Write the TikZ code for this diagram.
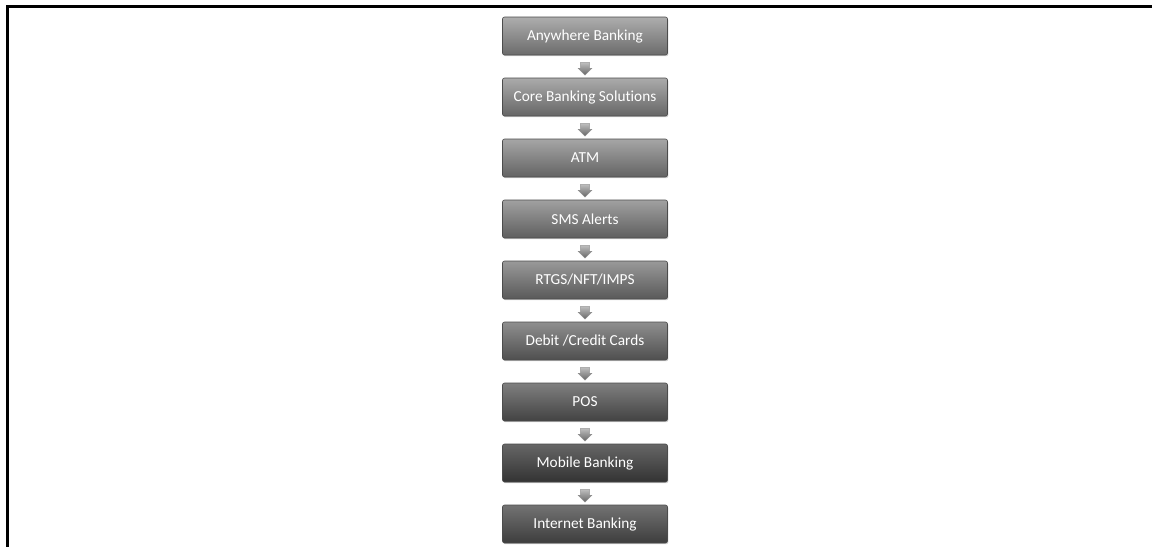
\documentclass[tikz,border=0pt]{standalone}
\usepackage{fontspec}
\setmainfont{Carlito}[Ligatures=NoCommon]
\usetikzlibrary{shapes.arrows,shadows}
\begin{document}
\begin{tikzpicture}[x=1pt,y=-1pt,
  stagebox/.style={rectangle, rounded corners=2pt, minimum width=165pt, minimum height=38pt,
    inner sep=0pt, draw=black!70, line width=0.6pt, text=white,
    font=\fontsize{15.3}{18}\selectfont,
    drop shadow={shadow xshift=0.8pt, shadow yshift=-1.2pt, opacity=0.35}},
  downarrow/.style={single arrow, shape border rotate=270, minimum width=14pt,
    minimum height=13pt, single arrow head extend=2.5pt, inner xsep=4pt, inner ysep=0pt,
    top color=black!25, bottom color=black!60, draw=black!45, line width=0.3pt}
]
\useasboundingbox (0,0) rectangle (1152,547);
\fill[white] (0,0) rectangle (1152,547);
\draw[line width=2.4pt] (7.5,6.5) -- (1152,6.5);
\draw[line width=2.4pt] (7.5,5.3) -- (7.5,547);

\node[stagebox, top color=black!32, bottom color=black!58] (b1) at (585,36) {Anywhere Banking};
\node[stagebox, top color=black!33, bottom color=black!60] (b2) at (585,97) {Core Banking Solutions};
\node[stagebox, top color=black!35, bottom color=black!61] (b3) at (585,158) {ATM};
\node[stagebox, top color=black!37, bottom color=black!63] (b4) at (585,219) {SMS Alerts};
\node[stagebox, top color=black!40, bottom color=black!65] (b5) at (585,280) {RTGS/NFT/IMPS};
\node[stagebox, top color=black!44, bottom color=black!69] (b6) at (585,341) {Debit /Credit Cards};
\node[stagebox, top color=black!50, bottom color=black!74] (b7) at (585,402) {POS};
\node[stagebox, top color=black!60, bottom color=black!80] (b8) at (585,463) {Mobile Banking};
\node[stagebox, top color=black!55, bottom color=black!76] (b9) at (585,524) {Internet Banking};

\path (b1.south) -- node[downarrow] (a1) {} (b2.north);
\path (b2.south) -- node[downarrow] (a2) {} (b3.north);
\path (b3.south) -- node[downarrow] (a3) {} (b4.north);
\path (b4.south) -- node[downarrow] (a4) {} (b5.north);
\path (b5.south) -- node[downarrow] (a5) {} (b6.north);
\path (b6.south) -- node[downarrow] (a6) {} (b7.north);
\path (b7.south) -- node[downarrow] (a7) {} (b8.north);
\path (b8.south) -- node[downarrow] (a8) {} (b9.north);
\end{tikzpicture}
\end{document}
